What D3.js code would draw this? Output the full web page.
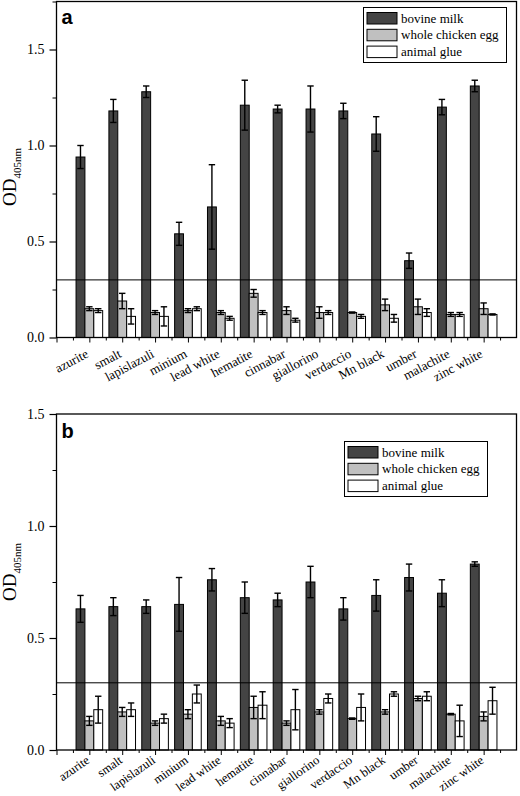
<!DOCTYPE html>
<html><head><meta charset="utf-8">
<script src="https://cdn.jsdelivr.net/npm/d3@7"></script>
<style>html,body{margin:0;padding:0;background:#fff}svg{display:block}</style>
</head><body>
<svg id="chart" width="520" height="796"></svg>
<script>
const categories = ["azurite","smalt","lapislazuli","minium","lead white","hematite","cinnabar","giallorino","verdaccio","Mn black","umber","malachite","zinc white"];
const seriesNames = ["bovine milk","whole chicken egg","animal glue"];
const seriesColors = ["#444444","#c0c0c0","#ffffff"];

// Panel a
const milkA    = [0.94,1.18,1.28,0.54,0.68,1.21,1.19,1.19,1.18,1.06,0.40,1.20,1.31];
const milkAErr = [0.06,0.06,0.03,0.06,0.22,0.13,0.02,0.12,0.04,0.09,0.04,0.04,0.03];
const eggA     = [0.15,0.19,0.13,0.14,0.13,0.23,0.14,0.13,0.13,0.17,0.16,0.12,0.15];
const eggAErr  = [0.01,0.04,0.01,0.01,0.01,0.02,0.02,0.03,0.003,0.03,0.04,0.01,0.03];
const glueA    = [0.14,0.11,0.11,0.15,0.10,0.13,0.09,0.13,0.11,0.10,0.13,0.12,0.12];
const glueAErr = [0.01,0.04,0.05,0.01,0.01,0.01,0.01,0.01,0.01,0.02,0.02,0.01,0.003];

// Panel b
const milkB    = [0.63,0.64,0.64,0.65,0.76,0.68,0.67,0.75,0.63,0.69,0.77,0.70,0.83];
const milkBErr = [0.06,0.04,0.03,0.12,0.05,0.07,0.03,0.07,0.05,0.07,0.06,0.06,0.01];
const eggB     = [0.13,0.17,0.12,0.16,0.13,0.19,0.12,0.17,0.14,0.17,0.23,0.16,0.15];
const eggBErr  = [0.02,0.02,0.01,0.02,0.02,0.05,0.01,0.01,0.003,0.01,0.01,0.003,0.02];
const glueB    = [0.18,0.18,0.14,0.25,0.12,0.20,0.18,0.23,0.19,0.25,0.24,0.13,0.22];
const glueBErr = [0.06,0.03,0.02,0.04,0.02,0.06,0.09,0.02,0.06,0.01,0.02,0.07,0.06];

const yMajorTicks = [0, 0.5, 1.0, 1.5];
const threshold = 0.3;

const svg = d3.select("#chart");
const serif = "'Liberation Serif','Times New Roman',serif";

function panel(cfg) {
  const g = svg.append("g");
  const x = d3.scaleLinear().domain([-1, 13]).range([56.5, 516.5]);
  const y = d3.scaleLinear().domain([0, cfg.yMax]).range([cfg.bottom, cfg.bottom - cfg.pxPerUnit * cfg.yMax]);
  const top = y(cfg.yMax);
  const bw = 0.27;
  const series = [cfg.milk, cfg.egg, cfg.glue];
  const errs = [cfg.milkErr, cfg.eggErr, cfg.glueErr];

  // bars
  series.forEach((vals, s) => {
    const off = (s - 1.5) * bw;
    g.selectAll(null).data(vals).enter().append("rect")
      .attr("x", (d, i) => x(i + off))
      .attr("width", (d, i) => x(i + off + bw) - x(i + off))
      .attr("y", d => y(d))
      .attr("height", d => y(0) - y(d))
      .attr("fill", seriesColors[s])
      .attr("stroke", "#000").attr("stroke-width", 1);
  });
  // error bars
  series.forEach((vals, s) => {
    const cx = i => x(i + (s - 1) * bw);
    const eg = g.append("g").attr("stroke", "#000").attr("stroke-width", 1.4);
    vals.forEach((v, i) => {
      const e = errs[s][i];
      eg.append("line").attr("x1", cx(i)).attr("x2", cx(i)).attr("y1", y(v - e)).attr("y2", y(v + e));
      [v - e, v + e].forEach(t => eg.append("line")
        .attr("x1", cx(i) - 3.2).attr("x2", cx(i) + 3.2).attr("y1", y(t)).attr("y2", y(t)));
    });
  });
  // threshold line
  g.append("line").attr("x1", x(-1)).attr("x2", x(13)).attr("y1", y(threshold)).attr("y2", y(threshold))
    .attr("stroke", "#000").attr("stroke-width", 1);
  // frame
  g.append("rect").attr("x", x(-1)).attr("y", top).attr("width", x(13) - x(-1)).attr("height", y(0) - top)
    .attr("fill", "none").attr("stroke", "#000").attr("stroke-width", 1.3);

  // y axis
  const ya = d3.axisLeft(y).tickValues(yMajorTicks).tickSize(7).tickPadding(5).tickFormat(d3.format(".1f"));
  const yag = g.append("g").attr("transform", `translate(${x(-1)},0)`).call(ya);
  yag.select(".domain").remove();
  yag.selectAll("text").attr("font-family", serif).attr("font-size", 14).attr("fill", "#000");
  yag.selectAll("line").attr("stroke-width", 1.2);
  const minor = d3.range(0.25, cfg.yMax + 0.001, 0.5);
  const yam = d3.axisLeft(y).tickValues(minor).tickSize(4).tickFormat("");
  const yamg = g.append("g").attr("transform", `translate(${x(-1)},0)`).call(yam);
  yamg.select(".domain").remove();

  // x axis
  const xa = d3.axisBottom(x).tickValues(d3.range(-1, 13)).tickSize(5).tickFormat("");
  const xag = g.append("g").attr("transform", `translate(0,${y(0)})`).call(xa);
  xag.select(".domain").remove();
  const xam = d3.axisBottom(x).tickValues(d3.range(-0.5, 13, 1)).tickSize(3).tickFormat("");
  const xamg = g.append("g").attr("transform", `translate(0,${y(0)})`).call(xam);
  xamg.select(".domain").remove();

  g.selectAll(null).data(categories).enter().append("text")
    .attr("transform", (d, i) => `translate(${x(i) + cfg.lblDx},${y(0) + cfg.lblDy}) rotate(${cfg.angle})`)
    .attr("text-anchor", "end")
    .attr("font-family", serif).attr("font-size", cfg.lblSize).attr("fill", "#000")
    .text(d => d);

  // y title
  const yt = g.append("text")
    .attr("transform", `translate(16,${cfg.titleY}) rotate(-90)`)
    .attr("text-anchor", "middle").attr("font-family", serif).attr("fill", "#000");
  yt.append("tspan").attr("font-size", 19).text("OD");
  yt.append("tspan").attr("font-size", 11).attr("dy", 4.5).text("405nm");

  // panel letter
  g.append("text").attr("x", x(-1) + 5).attr("y", top + cfg.letterDy)
    .attr("font-family", "'Liberation Sans',Arial,sans-serif").attr("font-weight", "bold")
    .attr("font-size", 20).attr("fill", "#000").text(cfg.letter);

  // legend
  const lg = g.append("g").attr("transform", `translate(${cfg.legX},${cfg.legY})`);
  lg.append("rect").attr("width", 143).attr("height", 55).attr("fill", "#fff")
    .attr("stroke", "#000").attr("stroke-width", 1);
  seriesNames.forEach((n, s) => {
    lg.append("rect").attr("x", 3.5).attr("y", 5 + s * 16.8).attr("width", 30).attr("height", 11.5)
      .attr("fill", seriesColors[s]).attr("stroke", "#000").attr("stroke-width", 1);
    lg.append("text").attr("x", 37.5).attr("y", 15 + s * 16.8)
      .attr("font-family", serif).attr("font-size", 13).attr("fill", "#000").text(n);
  });
}

panel({ letter: "a", yMax: 1.75, bottom: 337.5, pxPerUnit: 192,
  milk: milkA, milkErr: milkAErr, egg: eggA, eggErr: eggAErr, glue: glueA, glueErr: glueAErr,
  angle: -28, lblDx: 0, lblDy: 19, lblSize: 13, titleY: 177, letterDy: 22, legX: 363.5, legY: 7.5 });

panel({ letter: "b", yMax: 1.5, bottom: 750, pxPerUnit: 224,
  milk: milkB, milkErr: milkBErr, egg: eggB, eggErr: eggBErr, glue: glueB, glueErr: glueBErr,
  angle: -35, lblDx: 1, lblDy: 12, lblSize: 12.5, titleY: 572, letterDy: 24, legX: 344.5, legY: 441.5 });
</script>
</body></html>
